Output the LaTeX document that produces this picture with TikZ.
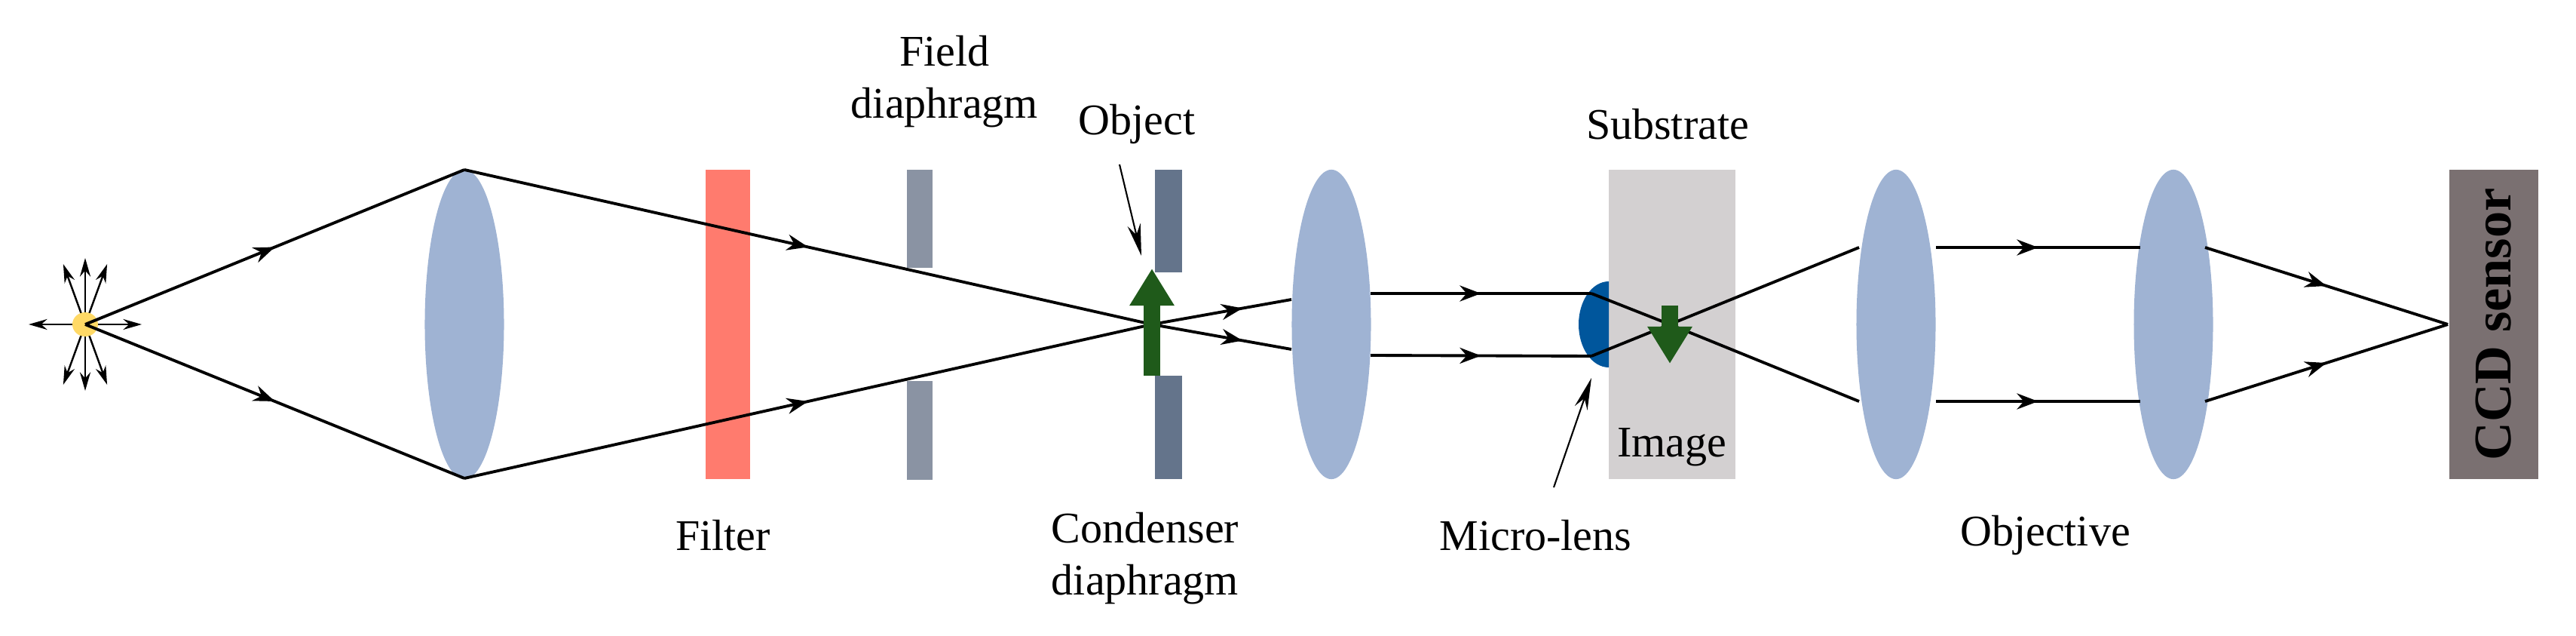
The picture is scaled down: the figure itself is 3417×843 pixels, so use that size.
\documentclass[tikz,border=0pt]{standalone}
\usepackage{fontspec}
\setmainfont{Liberation Serif}
\usetikzlibrary{arrows.meta,decorations.markings,shapes.geometric}
\definecolor{lensc}{HTML}{9FB3D3}
\definecolor{filterc}{HTML}{FF7B6E}
\definecolor{fieldc}{HTML}{8A93A3}
\definecolor{condc}{HTML}{64748B}
\definecolor{subc}{HTML}{D3D0D1}
\definecolor{ccdc}{HTML}{7A7071}
\definecolor{objc}{HTML}{1F5A1A}
\definecolor{mlc}{HTML}{00569C}
\definecolor{srcc}{HTML}{FFD966}
\begin{document}
\begin{tikzpicture}[x=0.01cm,y=-0.01cm,
  ray/.style={line width=1.1pt,postaction={decorate},decoration={markings,mark=at position #1 with {\arrow{Stealth[length=8pt,width=6pt]}}}},
  ray/.default=0.5,
  lens/.style={fill=lensc,draw=none,ellipse,inner sep=0pt,minimum width=1.05cm,minimum height=4.1cm},
  lbl/.style={font=\fontsize{16.5}{19.5}\selectfont,align=center},
  src/.style={-{Stealth[length=7pt,width=4pt]},line width=0.7pt},
  obj/.style={objc,line width=6pt,-{Triangle[length=14pt,width=16pt]}}]
\useasboundingbox (0,0) rectangle (3417,843);
% components
\node[lens] (L1) at (616,430) {};
\node[lens] (L2) at (1766,430) {};
\node[lens] (L3) at (2515,430) {};
\node[lens] (L4) at (2883,430) {};
\fill[filterc] (936,225) rectangle (995,635);
\fill[fieldc] (1203,225) rectangle (1237,355);
\fill[fieldc] (1203,505) rectangle (1237,636);
\fill[condc] (1532,225) rectangle (1568,361);
\fill[condc] (1532,498) rectangle (1568,635);
\fill[subc] (2134,225) rectangle (2302,635);
\fill[mlc] (2134,373) arc[start angle=-90,end angle=-270,x radius=40,y radius=57] -- cycle;
\fill[ccdc] (3249,225) rectangle (3367,635);
\node[rotate=90,font=\fontsize{20}{24}\selectfont\bfseries] (ccd) at (3308,430) {CCD sensor};
% source
\coordinate (S) at (113,430);
\foreach \a/\l in {0/75,70/85,90/88,110/85,180/75,250/85,270/88,290/85}
  \draw[src] (S) -- ++(\a:-\l);
\fill[srcc] (S) ellipse (17 and 16);
% rays
\coordinate (T1) at (616,225); \coordinate (B1) at (616,634);
\coordinate (X1) at (1528,430);
\coordinate (M1) at (2111,389); \coordinate (M2) at (2111,472);
\coordinate (X2) at (2215,430);
\coordinate (T3) at (2466,328); \coordinate (B3) at (2466,532);
\coordinate (T4) at (2839,328); \coordinate (B4) at (2839,532);
\coordinate (T4b) at (2925,328); \coordinate (B4b) at (2925,532);
\coordinate (F) at (3247,430);
\draw[ray] (S) -- (T1);
\draw[ray] (S) -- (B1);
\draw[ray] (T1) -- (X1);
\draw[ray] (B1) -- (X1);
\draw[ray=0.65] (X1) -- (1713,397);
\draw[ray=0.65] (X1) -- (1713,463);
\draw[ray] (1818,389) -- (M1);
\draw[ray] (1818,471) -- (M2);
\draw[line width=1.1pt] (M1) -- (X2) -- (B3);
\draw[line width=1.1pt] (M2) -- (X2) -- (T3);
\draw[ray] (2568,328) -- (T4);
\draw[ray] (2568,532) -- (B4);
\draw[ray] (T4b) -- (F);
\draw[ray] (B4b) -- (F);
% object/image arrows
\draw[obj] (1528,498) -- (1528,356);
\draw[obj] (2215,405) -- (2215,482);
% labels
\node[lbl] (fd) at (1253,108) {Field\\diaphragm};
\node[lbl] (ob) at (1508,165) {Object};
\node[lbl] (su) at (2212,165) {Substrate};
\node[lbl] (fi) at (959,710) {Filter};
\node[lbl] (cd) at (1519,740) {Condenser\\diaphragm};
\node[lbl] (ml) at (2037,710) {Micro-lens};
\node[lbl] (oj) at (2713,710) {Objective};
\node[lbl] (im) at (2218,593) {Image};
\coordinate (obt) at (1514,339);
\coordinate (mlt) at (2111,501);
\draw[-{Stealth[length=12pt,width=5pt]},line width=0.6pt] (1485,218) -- (obt);
\draw[-{Stealth[length=12pt,width=5pt]},line width=0.6pt] (2061,646) -- (mlt);
\end{tikzpicture}
\end{document}
